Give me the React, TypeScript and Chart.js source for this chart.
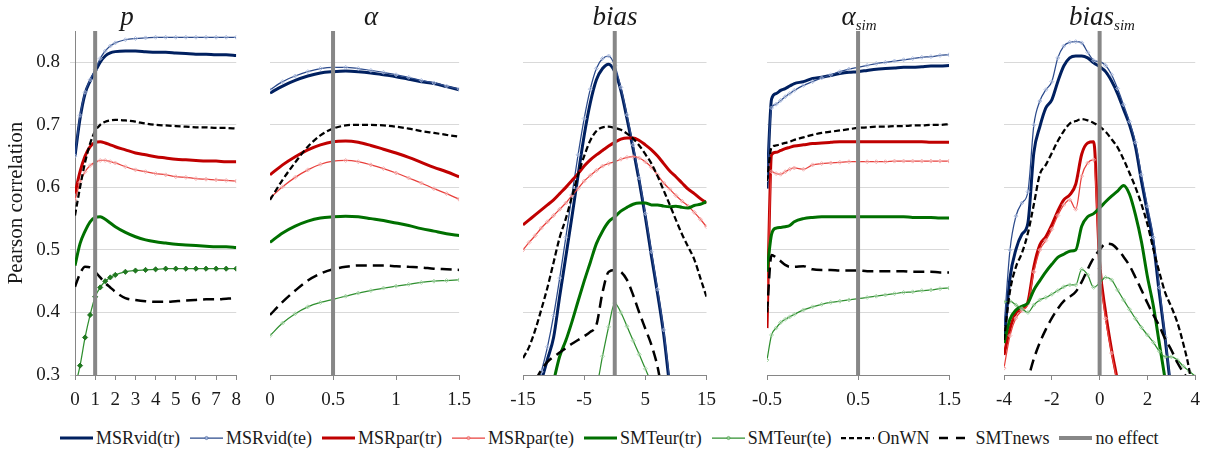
import React, { useEffect, useRef } from "react";
import { Chart, registerables } from "chart.js";

Chart.register(...registerables);

const SERIF = '"Liberation Serif", "Times New Roman", Times, serif';
Chart.defaults.font.family = SERIF;

// ---------- series names ----------
const SERIES_NAMES = ["MSRvid(tr)", "MSRvid(te)", "MSRpar(tr)", "MSRpar(te)", "SMTeur(tr)", "SMTeur(te)", "OnWN", "SMTnews"];
const NO_EFFECT_NAME = "no effect";

// ---------- axes ----------
const Y_MIN = 0.3;
const Y_MAX = 0.85;
const yTicks = [0.3, 0.4, 0.5, 0.6, 0.7, 0.8];
const pTicks = [0, 1, 2, 3, 4, 5, 6, 7, 8];
const aTicks = [0, 0.5, 1, 1.5];
const bTicks = [-15, -5, 5, 15];
const asTicks = [-0.5, 0.5, 1.5];
const bsTicks = [-4, -2, 0, 2, 4];
const noEffectX = [1, 0.5, 0, 0.5, 0];

// ---------- panel 1: p ----------
const pX = [0, 0.25, 0.5, 0.75, 1, 1.25, 1.5, 1.75, 2, 2.5, 3, 3.5, 4, 4.5, 5, 5.5, 6, 6.5, 7, 7.5, 8];
const p_MSRvid_tr = [0.650, 0.710, 0.750, 0.770, 0.785, 0.800, 0.810, 0.815, 0.817, 0.818, 0.818, 0.817, 0.816, 0.816, 0.815, 0.814, 0.813, 0.813, 0.812, 0.812, 0.811];
const p_MSRvid_te = [0.650, 0.715, 0.752, 0.772, 0.788, 0.806, 0.818, 0.826, 0.831, 0.836, 0.838, 0.839, 0.840, 0.840, 0.840, 0.840, 0.840, 0.840, 0.840, 0.840, 0.840];
const p_MSRpar_tr = [0.590, 0.625, 0.650, 0.665, 0.672, 0.673, 0.671, 0.668, 0.665, 0.660, 0.655, 0.652, 0.649, 0.647, 0.645, 0.644, 0.643, 0.642, 0.642, 0.641, 0.641];
const p_MSRpar_te = [0.580, 0.608, 0.625, 0.635, 0.640, 0.643, 0.643, 0.641, 0.639, 0.633, 0.628, 0.625, 0.622, 0.620, 0.617, 0.616, 0.614, 0.613, 0.612, 0.611, 0.610];
const p_SMTeur_tr = [0.475, 0.510, 0.530, 0.545, 0.552, 0.553, 0.549, 0.543, 0.537, 0.528, 0.521, 0.516, 0.513, 0.511, 0.509, 0.508, 0.507, 0.506, 0.505, 0.505, 0.504];
const p_SMTeur_te = [0.280, 0.315, 0.360, 0.396, 0.425, 0.440, 0.450, 0.456, 0.460, 0.465, 0.467, 0.468, 0.469, 0.470, 0.470, 0.470, 0.470, 0.470, 0.470, 0.470, 0.470];
const p_OnWN = [0.555, 0.600, 0.640, 0.670, 0.690, 0.700, 0.705, 0.707, 0.708, 0.707, 0.705, 0.702, 0.700, 0.699, 0.698, 0.697, 0.696, 0.696, 0.695, 0.695, 0.694];
const p_SMTnews = [0.441, 0.462, 0.473, 0.472, 0.465, 0.456, 0.447, 0.440, 0.433, 0.423, 0.420, 0.418, 0.417, 0.417, 0.418, 0.419, 0.420, 0.421, 0.421, 0.422, 0.423];

// ---------- panel 2: alpha ----------
const aX = [0, 0.1, 0.2, 0.3, 0.4, 0.5, 0.6, 0.7, 0.8, 0.9, 1.0, 1.1, 1.2, 1.3, 1.4, 1.5];
const a_MSRvid_tr = [0.751, 0.762, 0.771, 0.778, 0.783, 0.785, 0.786, 0.785, 0.783, 0.780, 0.777, 0.773, 0.769, 0.766, 0.761, 0.756];
const a_MSRvid_te = [0.756, 0.769, 0.778, 0.785, 0.790, 0.792, 0.792, 0.790, 0.787, 0.784, 0.780, 0.776, 0.771, 0.767, 0.762, 0.757];
const a_MSRpar_tr = [0.620, 0.636, 0.649, 0.660, 0.668, 0.673, 0.674, 0.672, 0.667, 0.661, 0.655, 0.648, 0.640, 0.632, 0.625, 0.617];
const a_MSRpar_te = [0.583, 0.601, 0.616, 0.628, 0.637, 0.642, 0.643, 0.641, 0.636, 0.630, 0.623, 0.615, 0.607, 0.598, 0.590, 0.581];
const a_SMTeur_tr = [0.512, 0.527, 0.538, 0.546, 0.551, 0.553, 0.554, 0.553, 0.550, 0.547, 0.543, 0.539, 0.534, 0.530, 0.526, 0.523];
const a_SMTeur_te = [0.363, 0.383, 0.398, 0.409, 0.416, 0.421, 0.426, 0.431, 0.435, 0.439, 0.442, 0.445, 0.448, 0.450, 0.451, 0.452];
const a_OnWN = [0.580, 0.612, 0.640, 0.665, 0.683, 0.694, 0.699, 0.700, 0.700, 0.699, 0.697, 0.694, 0.690, 0.687, 0.684, 0.681];
const a_SMTnews = [0.396, 0.417, 0.435, 0.451, 0.462, 0.469, 0.473, 0.475, 0.475, 0.475, 0.474, 0.473, 0.472, 0.470, 0.469, 0.468];

// ---------- panel 3: bias ----------
const bX = [-15, -14, -13, -12, -11, -10, -9, -8, -7, -6, -5, -4, -3, -2, -1, 0, 1, 2, 3, 4, 5, 6, 7, 8, 9, 10, 11, 12, 13, 14, 15];
const b_MSRvid_tr = [0.150, 0.200, 0.250, 0.290, 0.325, 0.360, 0.426, 0.489, 0.553, 0.619, 0.683, 0.735, 0.772, 0.790, 0.797, 0.785, 0.755, 0.710, 0.662, 0.610, 0.553, 0.490, 0.430, 0.365, 0.280, 0.200, 0.130, 0.070, 0.020, -0.020, -0.050];
const b_MSRvid_te = [0.170, 0.220, 0.265, 0.305, 0.345, 0.395, 0.455, 0.520, 0.588, 0.652, 0.710, 0.757, 0.790, 0.806, 0.810, 0.795, 0.760, 0.716, 0.668, 0.615, 0.558, 0.497, 0.437, 0.372, 0.290, 0.210, 0.140, 0.080, 0.030, -0.010, -0.040];
const b_MSRpar_tr = [0.540, 0.548, 0.556, 0.564, 0.572, 0.580, 0.590, 0.600, 0.611, 0.622, 0.634, 0.644, 0.652, 0.659, 0.666, 0.672, 0.677, 0.679, 0.679, 0.675, 0.668, 0.660, 0.650, 0.638, 0.626, 0.617, 0.607, 0.597, 0.590, 0.582, 0.575];
const b_MSRpar_te = [0.500, 0.512, 0.523, 0.535, 0.545, 0.555, 0.565, 0.575, 0.587, 0.598, 0.610, 0.619, 0.627, 0.634, 0.638, 0.641, 0.645, 0.648, 0.649, 0.647, 0.641, 0.632, 0.620, 0.607, 0.597, 0.587, 0.578, 0.570, 0.560, 0.549, 0.537];
const b_SMTeur_tr = [0.090, 0.130, 0.170, 0.210, 0.250, 0.290, 0.330, 0.355, 0.385, 0.418, 0.450, 0.480, 0.510, 0.530, 0.545, 0.553, 0.562, 0.568, 0.573, 0.575, 0.575, 0.572, 0.572, 0.570, 0.569, 0.570, 0.568, 0.567, 0.571, 0.573, 0.577];
const b_SMTeur_te = [-0.100, -0.050, 0.000, 0.040, 0.080, 0.110, 0.140, 0.170, 0.200, 0.225, 0.250, 0.265, 0.280, 0.330, 0.377, 0.415, 0.400, 0.378, 0.355, 0.333, 0.310, 0.287, 0.260, 0.235, 0.210, 0.185, 0.160, 0.140, 0.120, 0.100, 0.080];
const b_OnWN = [0.327, 0.345, 0.372, 0.405, 0.440, 0.480, 0.520, 0.550, 0.585, 0.620, 0.650, 0.675, 0.690, 0.696, 0.697, 0.695, 0.692, 0.686, 0.678, 0.667, 0.653, 0.638, 0.618, 0.595, 0.572, 0.548, 0.525, 0.505, 0.485, 0.455, 0.425];
const b_SMTnews = [0.240, 0.265, 0.290, 0.308, 0.321, 0.329, 0.336, 0.343, 0.350, 0.356, 0.362, 0.369, 0.380, 0.432, 0.465, 0.468, 0.465, 0.452, 0.428, 0.400, 0.374, 0.348, 0.313, 0.260, 0.220, 0.180, 0.140, 0.100, 0.060, 0.020, 0.000];

// ---------- panel 4: alpha_sim ----------
const asX = [-0.5, -0.45, -0.4, -0.35, -0.3, -0.25, -0.2, -0.1, 0, 0.1, 0.2, 0.3, 0.4, 0.5, 0.6, 0.7, 0.8, 0.9, 1.0, 1.1, 1.2, 1.3, 1.4, 1.5];
const as_MSRvid_tr = [0.598, 0.741, 0.750, 0.755, 0.758, 0.762, 0.766, 0.769, 0.774, 0.776, 0.779, 0.782, 0.784, 0.785, 0.787, 0.789, 0.790, 0.791, 0.792, 0.792, 0.793, 0.794, 0.794, 0.795];
const as_MSRvid_te = [0.612, 0.727, 0.733, 0.739, 0.745, 0.750, 0.755, 0.763, 0.769, 0.775, 0.780, 0.785, 0.789, 0.792, 0.795, 0.798, 0.800, 0.802, 0.804, 0.806, 0.808, 0.809, 0.811, 0.812];
const as_MSRpar_tr = [0.375, 0.652, 0.656, 0.659, 0.662, 0.664, 0.666, 0.668, 0.670, 0.671, 0.672, 0.673, 0.673, 0.673, 0.673, 0.673, 0.673, 0.673, 0.673, 0.673, 0.673, 0.672, 0.672, 0.672];
const as_MSRpar_te = [0.409, 0.625, 0.622, 0.621, 0.625, 0.629, 0.631, 0.629, 0.636, 0.638, 0.639, 0.640, 0.641, 0.641, 0.641, 0.641, 0.641, 0.642, 0.642, 0.642, 0.642, 0.642, 0.642, 0.642];
const as_SMTeur_tr = [0.465, 0.525, 0.535, 0.536, 0.537, 0.539, 0.545, 0.550, 0.552, 0.553, 0.553, 0.553, 0.553, 0.553, 0.553, 0.553, 0.553, 0.553, 0.553, 0.552, 0.552, 0.552, 0.551, 0.551];
const as_SMTeur_te = [0.324, 0.364, 0.375, 0.384, 0.389, 0.393, 0.397, 0.404, 0.409, 0.413, 0.416, 0.418, 0.420, 0.422, 0.424, 0.426, 0.428, 0.430, 0.432, 0.433, 0.435, 0.436, 0.438, 0.439];
const as_OnWN = [0.610, 0.664, 0.667, 0.669, 0.671, 0.673, 0.676, 0.680, 0.684, 0.687, 0.689, 0.691, 0.693, 0.695, 0.696, 0.697, 0.697, 0.698, 0.698, 0.699, 0.699, 0.700, 0.700, 0.701];
const as_SMTnews = [0.400, 0.492, 0.488, 0.482, 0.476, 0.473, 0.473, 0.474, 0.469, 0.468, 0.468, 0.467, 0.467, 0.467, 0.466, 0.466, 0.466, 0.466, 0.466, 0.465, 0.465, 0.465, 0.464, 0.464];

// ---------- panel 5: bias_sim ----------
const bsX = [-4, -3.75, -3.5, -3.25, -3, -2.75, -2.5, -2.25, -2, -1.75, -1.5, -1.25, -1, -0.75, -0.5, -0.25, 0, 0.25, 0.5, 0.75, 1, 1.25, 1.5, 1.75, 2, 2.25, 2.5, 2.75, 3, 3.25, 3.5, 3.75, 4];
const bs_MSRvid_tr = [0.351, 0.455, 0.501, 0.525, 0.543, 0.656, 0.697, 0.727, 0.740, 0.769, 0.794, 0.807, 0.810, 0.810, 0.807, 0.799, 0.793, 0.785, 0.770, 0.750, 0.725, 0.700, 0.665, 0.610, 0.560, 0.510, 0.430, 0.355, 0.270, 0.190, 0.110, 0.040, -0.030];
const bs_MSRvid_te = [0.375, 0.500, 0.554, 0.575, 0.593, 0.700, 0.738, 0.756, 0.769, 0.807, 0.826, 0.832, 0.833, 0.831, 0.816, 0.803, 0.801, 0.795, 0.780, 0.758, 0.732, 0.705, 0.672, 0.620, 0.570, 0.520, 0.440, 0.360, 0.275, 0.195, 0.115, 0.045, -0.025];
const bs_MSRpar_tr = [0.332, 0.374, 0.399, 0.406, 0.417, 0.473, 0.508, 0.521, 0.540, 0.562, 0.580, 0.588, 0.605, 0.653, 0.671, 0.673, 0.480, 0.400, 0.340, 0.290, 0.230, 0.170, 0.110, 0.050, -0.010, -0.070, -0.130, -0.190, -0.250, -0.310, -0.370, -0.430, -0.490];
const bs_MSRpar_te = [0.311, 0.363, 0.391, 0.403, 0.414, 0.465, 0.500, 0.515, 0.533, 0.555, 0.572, 0.580, 0.565, 0.618, 0.639, 0.644, 0.470, 0.390, 0.335, 0.285, 0.225, 0.165, 0.105, 0.045, -0.015, -0.075, -0.135, -0.195, -0.255, -0.315, -0.375, -0.435, -0.495];
const bs_SMTeur_tr = [0.351, 0.389, 0.404, 0.410, 0.415, 0.436, 0.451, 0.465, 0.477, 0.488, 0.493, 0.498, 0.500, 0.538, 0.553, 0.558, 0.567, 0.577, 0.586, 0.594, 0.603, 0.589, 0.556, 0.513, 0.457, 0.410, 0.350, 0.290, 0.220, 0.150, 0.080, 0.010, -0.060];
const bs_SMTeur_te = [0.417, 0.418, 0.412, 0.406, 0.400, 0.412, 0.420, 0.424, 0.429, 0.435, 0.441, 0.444, 0.444, 0.469, 0.460, 0.440, 0.447, 0.456, 0.452, 0.436, 0.420, 0.405, 0.390, 0.376, 0.364, 0.352, 0.338, 0.329, 0.329, 0.324, 0.314, 0.306, 0.298];
const bs_OnWN = [0.356, 0.434, 0.473, 0.495, 0.527, 0.573, 0.621, 0.636, 0.655, 0.674, 0.690, 0.702, 0.706, 0.709, 0.707, 0.703, 0.697, 0.689, 0.677, 0.664, 0.645, 0.623, 0.600, 0.573, 0.541, 0.501, 0.464, 0.431, 0.409, 0.384, 0.350, 0.308, 0.240];
const bs_SMTnews = [0.150, 0.190, 0.230, 0.260, 0.293, 0.326, 0.352, 0.373, 0.391, 0.406, 0.418, 0.425, 0.433, 0.449, 0.469, 0.487, 0.500, 0.510, 0.509, 0.501, 0.489, 0.475, 0.456, 0.436, 0.415, 0.396, 0.378, 0.357, 0.340, 0.320, 0.304, 0.290, 0.270];

// ---------- panel definitions (built from the arrays above) ----------
const PANELS = [
  { title: "p", sub: "", xs: pX, min: 0, max: 8, ticks: pTicks,
    series: [p_MSRvid_tr, p_MSRvid_te, p_MSRpar_tr, p_MSRpar_te, p_SMTeur_tr, p_SMTeur_te, p_OnWN, p_SMTnews] },
  { title: "\u03b1", sub: "", xs: aX, min: 0, max: 1.5, ticks: aTicks,
    series: [a_MSRvid_tr, a_MSRvid_te, a_MSRpar_tr, a_MSRpar_te, a_SMTeur_tr, a_SMTeur_te, a_OnWN, a_SMTnews] },
  { title: "bias", sub: "", xs: bX, min: -15, max: 15, ticks: bTicks,
    series: [b_MSRvid_tr, b_MSRvid_te, b_MSRpar_tr, b_MSRpar_te, b_SMTeur_tr, b_SMTeur_te, b_OnWN, b_SMTnews] },
  { title: "\u03b1", sub: "sim", xs: asX, min: -0.5, max: 1.5, ticks: asTicks,
    series: [as_MSRvid_tr, as_MSRvid_te, as_MSRpar_tr, as_MSRpar_te, as_SMTeur_tr, as_SMTeur_te, as_OnWN, as_SMTnews] },
  { title: "bias", sub: "sim", xs: bsX, min: -4, max: 4, ticks: bsTicks,
    series: [bs_MSRvid_tr, bs_MSRvid_te, bs_MSRpar_tr, bs_MSRpar_te, bs_SMTeur_tr, bs_SMTeur_te, bs_OnWN, bs_SMTnews] },
];

// ---------- layout & style (no data) ----------
const CANVAS_H = 420;
const PLOT_TOP = 31;
const X_AXIS_H = 45;
const LAYOUT = [
  { left: 0, width: 250, padL: 0, padR: 13, yAxis: true, titleCx: 127 },
  { left: 250, width: 230, padL: 20, padR: 14, yAxis: false, titleCx: 371 },
  { left: 500, width: 225, padL: 23, padR: 15, yAxis: false, titleCx: 615 },
  { left: 740, width: 230, padL: 27, padR: 18, yAxis: false, titleCx: 859 },
  { left: 975, width: 234, padL: 29, padR: 9, yAxis: false, titleCx: 1102 },
];

type Style = { color: string; width: number; dash?: number[]; marker?: string };
const STYLES: Style[] = [
  { color: "#002060", width: 3 },
  { color: "#2b4a8b", width: 1.25, marker: "#9fb3dc" },
  { color: "#c00000", width: 3 },
  { color: "#e8403c", width: 1.25, marker: "#f4a3a3" },
  { color: "#007000", width: 3 },
  { color: "#2f8f2f", width: 1.25, marker: "#98cf98" },
  { color: "#000000", width: 2.25, dash: [6, 3] },
  { color: "#000000", width: 2.5, dash: [11, 6] },
];
// in the first panel the SMTeur(te) markers are drawn dark and filled
const MARKER_OVERRIDES: { panel: number; series: number; fill: string; stroke: string; radius: number }[] = [
  { panel: 0, series: 5, fill: "#1f7a1f", stroke: "#1a6b1a", radius: 2.6 },
];
const NO_EFFECT_STYLE = { color: "#878787", width: 4 };
const AXIS_COLOR = "#868686";
const GRID_COLOR = "#d9d9d9";
const TEXT_COLOR = "#1a1a1a";

function buildConfig(pi: number): any {
  const P = PANELS[pi];
  const L = LAYOUT[pi];
  const datasets: any[] = P.series.map((ys, si) => {
    const st = STYLES[si];
    const ov = MARKER_OVERRIDES.find((m) => m.panel === pi && m.series === si);
    return {
      label: SERIES_NAMES[si],
      data: P.xs.map((x, i) => ({ x, y: ys[i] })),
      borderColor: st.color,
      borderWidth: st.width,
      borderDash: st.dash || [],
      cubicInterpolationMode: "monotone",
      pointRadius: st.marker ? (ov ? ov.radius : 2) : 0,
      pointStyle: "rectRot",
      pointBorderColor: ov ? ov.stroke : st.marker || st.color,
      pointBackgroundColor: ov ? ov.fill : "rgba(255,255,255,0.3)",
      pointBorderWidth: 0.8,
      fill: false,
      clip: 0,
      order: 8 - si,
    };
  });
  datasets.push({
    label: NO_EFFECT_NAME,
    data: [{ x: noEffectX[pi], y: Y_MIN }, { x: noEffectX[pi], y: Y_MAX }],
    borderColor: NO_EFFECT_STYLE.color,
    borderWidth: NO_EFFECT_STYLE.width,
    pointRadius: 0,
    fill: false,
    clip: 0,
    order: 0,
  });

  const tickFont = { family: SERIF, size: 19 };
  return {
    type: "line",
    data: { datasets },
    options: {
      responsive: false,
      animation: false,
      events: [],
      layout: { padding: { left: L.padL, right: L.padR, top: PLOT_TOP, bottom: 0 } },
      plugins: { legend: { display: false }, tooltip: { enabled: false }, title: { display: false } },
      scales: {
        x: {
          type: "linear",
          min: P.min,
          max: P.max,
          afterBuildTicks: (s: any) => { s.ticks = P.ticks.map((v) => ({ value: v })); },
          afterFit: (s: any) => { s.height = X_AXIS_H; },
          grid: { display: true, drawOnChartArea: false, drawTicks: true, tickLength: 5, color: AXIS_COLOR, tickColor: AXIS_COLOR },
          border: { display: true, color: AXIS_COLOR, width: 1 },
          ticks: { font: tickFont, color: TEXT_COLOR, padding: 9, maxRotation: 0, autoSkip: false, callback: (v: any) => String(v) },
        },
        y: {
          type: "linear",
          min: Y_MIN,
          max: Y_MAX,
          afterBuildTicks: (s: any) => { s.ticks = yTicks.map((v) => ({ value: v })); },
          afterFit: (s: any) => { s.width = L.yAxis ? 75 : 0; },
          grid: {
            color: (ctx: any) => (ctx.tick && ctx.tick.value === Y_MIN ? AXIS_COLOR : GRID_COLOR),
            drawTicks: L.yAxis,
            tickLength: 5,
            tickColor: GRID_COLOR,
          },
          border: { display: L.yAxis, color: AXIS_COLOR, width: 1 },
          ticks: { display: L.yAxis, font: tickFont, color: TEXT_COLOR, padding: 10, callback: (v: any) => Number(v).toFixed(1) },
          title: {
            display: L.yAxis,
            text: "Pearson correlation",
            font: { family: SERIF, size: 21 },
            color: TEXT_COLOR,
            padding: { top: 4, bottom: 0 },
          },
        },
      },
    },
  };
}

function PanelChart({ index }: { index: number }) {
  const ref = useRef<HTMLCanvasElement | null>(null);
  useEffect(() => {
    if (!ref.current) return;
    let alive = true;
    const chart = new Chart(ref.current, buildConfig(index));
    const fonts: any = (document as any).fonts;
    if (fonts && fonts.load) {
      Promise.all([
        fonts.load('19px "Liberation Serif"'),
        fonts.load('21px "Liberation Serif"'),
      ])
        .then(() => fonts.ready)
        .then(() => { if (alive) chart.update("none"); })
        .catch(() => {});
    }
    return () => { alive = false; chart.destroy(); };
  }, [index]);
  const L = LAYOUT[index];
  return (
    <canvas
      ref={ref}
      width={L.width}
      height={CANVAS_H}
      style={{ position: "absolute", left: L.left, top: 0, width: L.width, height: CANVAS_H }}
    />
  );
}

function LegendSample({ si }: { si: number }) {
  if (si < 0) {
    return (
      <svg width={33} height={10} style={{ display: "block" }}>
        <line x1={0} y1={5} x2={33} y2={5} stroke={NO_EFFECT_STYLE.color} strokeWidth={4} />
      </svg>
    );
  }
  const st = STYLES[si];
  const dash = si === 6 ? "5,3" : si === 7 ? "9,8" : undefined;
  return (
    <svg width={33} height={10} style={{ display: "block" }}>
      <line x1={0} y1={5} x2={33} y2={5} stroke={st.color} strokeWidth={st.width} strokeDasharray={dash} />
      {st.marker ? <circle cx={16.5} cy={5} r={1.6} fill={st.marker} stroke={st.color} strokeWidth={0.5} /> : null}
    </svg>
  );
}

export default function App() {
  const items = SERIES_NAMES.map((n, i) => ({ name: n, si: i })).concat([{ name: NO_EFFECT_NAME, si: -1 }]);
  return (
    <div
      style={{
        position: "absolute",
        left: 0,
        top: 0,
        width: 1209,
        height: 451,
        overflow: "hidden",
        background: "#ffffff",
        fontFamily: SERIF,
        color: TEXT_COLOR,
      }}
    >
      {LAYOUT.map((_, i) => (
        <PanelChart key={i} index={i} />
      ))}
      {PANELS.map((P, i) => (
        <div
          key={"t" + i}
          style={{
            position: "absolute",
            left: LAYOUT[i].titleCx - 100,
            width: 200,
            top: 3,
            textAlign: "center",
            fontSize: 27,
            lineHeight: "27px",
            fontStyle: "italic",
            whiteSpace: "nowrap",
          }}
        >
          {P.title}
          {P.sub ? <span style={{ fontSize: 15, verticalAlign: "-5px" }}>{P.sub}</span> : null}
        </div>
      ))}
      <div
        style={{
          position: "absolute",
          left: 60,
          top: 428,
          display: "flex",
          alignItems: "center",
          whiteSpace: "nowrap",
          fontSize: 18,
          lineHeight: "20px",
        }}
      >
        {items.map((it) => (
          <div key={it.name} style={{ display: "flex", alignItems: "center", marginRight: 10 }}>
            <LegendSample si={it.si} />
            <span style={{ marginLeft: 3 }}>{it.name}</span>
          </div>
        ))}
      </div>
    </div>
  );
}
